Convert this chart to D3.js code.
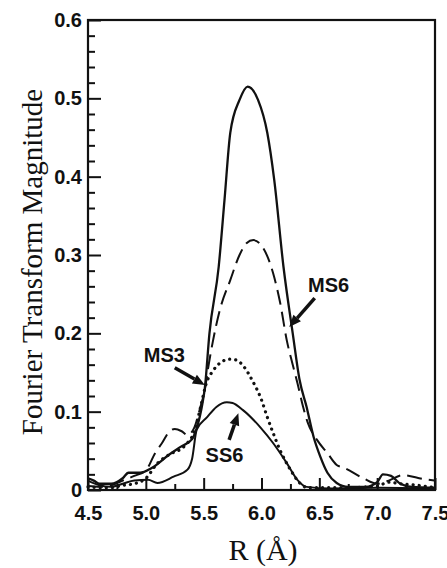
<!DOCTYPE html>
<html>
<head>
<meta charset="utf-8">
<title>Fourier Transform Magnitude</title>
<style type="text/css">
    body{ margin:0; background:#fff; }
    svg text{ fill:#111; }
    .tick-lbl{ font-family:"Liberation Sans", Arial, sans-serif; font-weight:bold; font-size:20px; }
    .title{ font-family:"Liberation Serif", "Times New Roman", serif; }
    .note{ font-family:"Liberation Sans", Arial, sans-serif; font-weight:bold; font-size:20px; }
</style>
<script src="https://cdn.jsdelivr.net/npm/d3@7"></script>
</head>
<body>
<svg id="chart" width="447" height="568"></svg>

<script type="text/javascript">

// data (R in Angstrom, magnitude)
var totalR = [4.5, 4.55, 4.6, 4.7, 4.8, 4.85, 4.95, 5.05, 5.2, 5.3, 5.4, 5.44, 5.49, 5.51, 5.55, 5.63, 5.68, 5.73, 5.81, 5.88, 5.97, 6.05, 6.11, 6.19, 6.27, 6.33, 6.39, 6.45, 6.51, 6.57, 6.65, 6.75, 6.9, 7.0, 7.05, 7.12, 7.2, 7.3, 7.5];
var totalV = [0.015, 0.012, 0.008, 0.008, 0.015, 0.022, 0.022, 0.028, 0.045, 0.055, 0.065, 0.079, 0.111, 0.13, 0.2, 0.285, 0.37, 0.456, 0.498, 0.515, 0.498, 0.456, 0.396, 0.285, 0.2, 0.14, 0.106, 0.068, 0.042, 0.022, 0.009, 0.004, 0.004, 0.01, 0.02, 0.018, 0.008, 0.004, 0.003];

var ms6R = [4.5, 4.6, 4.7, 4.8, 4.9, 5.0, 5.08, 5.14, 5.2, 5.25, 5.31, 5.36, 5.42, 5.47, 5.51, 5.54, 5.58, 5.64, 5.73, 5.81, 5.87, 5.93, 6.01, 6.1, 6.16, 6.22, 6.27, 6.31, 6.36, 6.4, 6.48, 6.57, 6.65, 6.72, 6.88, 7.0, 7.1, 7.22, 7.4, 7.5];
var ms6V = [0.005, 0.004, 0.006, 0.012, 0.018, 0.025, 0.047, 0.06, 0.074, 0.078, 0.075, 0.07, 0.08, 0.105, 0.128, 0.157, 0.19, 0.23, 0.268, 0.3, 0.315, 0.319, 0.31, 0.277, 0.24, 0.19, 0.16, 0.137, 0.106, 0.086, 0.064, 0.047, 0.032, 0.028, 0.015, 0.008, 0.012, 0.019, 0.014, 0.012];

var ms3R = [4.5, 4.6, 4.7, 4.8, 4.9, 5.0, 5.1, 5.2, 5.34, 5.42, 5.48, 5.52, 5.58, 5.65, 5.72, 5.78, 5.85, 5.92, 6.0, 6.05, 6.1, 6.16, 6.25, 6.33, 6.4, 6.7, 7.0, 7.1, 7.2, 7.35, 7.5];
var ms3V = [0.004, 0.003, 0.003, 0.006, 0.008, 0.015, 0.034, 0.045, 0.057, 0.075, 0.11, 0.135, 0.152, 0.163, 0.167, 0.166, 0.157, 0.14, 0.115, 0.093, 0.073, 0.051, 0.026, 0.009, 0.003, 0.003, 0.005, 0.01, 0.008, 0.006, 0.003];

var ss6R = [4.5, 4.6, 4.7, 4.8, 4.9, 5.02, 5.1, 5.24, 5.36, 5.4, 5.44, 5.53, 5.61, 5.7, 5.75, 5.84, 5.99, 6.1, 6.22, 6.31, 6.39, 6.6, 7.0, 7.5];
var ss6V = [0.012, 0.006, 0.004, 0.008, 0.012, 0.013, 0.009, 0.017, 0.026, 0.04, 0.077, 0.093, 0.106, 0.112, 0.111, 0.102, 0.08, 0.06, 0.034, 0.013, 0.004, 0.002, 0.003, 0.002];

var xMajor = [4.5, 5.0, 5.5, 6.0, 6.5, 7.0, 7.5];
var xLabels = ["4.5", "5.0", "5.5", "6.0", "6.5", "7.0", "7.5"];
var yMajor = [0, 0.1, 0.2, 0.3, 0.4, 0.5, 0.6];
var yLabels = ["0", "0.1", "0.2", "0.3", "0.4", "0.5", "0.6"];

// annotations: label, label position, arrow tail, arrow tip
var notes = [
    {text:"MS6", at:[6.58, 0.253], from:[6.46, 0.245], to:[6.24, 0.208]},
    {text:"MS3", at:[5.16, 0.163], from:[5.25, 0.156], to:[5.51, 0.134]},
    {text:"SS6", at:[5.68, 0.036], from:[5.72, 0.064], to:[5.80, 0.098]}
];

var mLeft = 88, mRight = 435, mTop = 20, mBottom = 490;

var svg = d3.select('#chart');
var x = d3.scaleLinear().domain([4.5, 7.5]).range([mLeft, mRight]);
var y = d3.scaleLinear().domain([0, 0.6]).range([mBottom, mTop]);

function zip(a, b){ return a.map(function(v, i){ return [v, b[i]]; }); }

// x axis, ticks point inward
var xMinor = d3.range(4.75, 7.5, 0.5);
svg.append('g')
    .attr('transform', 'translate(0,' + mBottom + ')')
    .call(d3.axisBottom(x).tickValues(xMinor).tickSizeInner(-6).tickSizeOuter(0).tickFormat(''));
svg.append('g')
    .attr('class', 'xaxis')
    .attr('transform', 'translate(0,' + mBottom + ')')
    .call(d3.axisBottom(x).tickValues(xMajor).tickSizeInner(-12).tickSizeOuter(0).tickPadding(16)
        .tickFormat(function(d, i){ return xLabels[i]; }));

var yMinor = d3.range(0.02, 0.6, 0.02).filter(function(d){ return Math.abs(d*10 - Math.round(d*10)) > 0.01; });
svg.append('g')
    .attr('transform', 'translate(' + mLeft + ',0)')
    .call(d3.axisLeft(y).tickValues(yMinor).tickSizeInner(-7).tickSizeOuter(0).tickFormat(''));
svg.append('g')
    .attr('class', 'yaxis')
    .attr('transform', 'translate(' + mLeft + ',0)')
    .call(d3.axisLeft(y).tickValues(yMajor).tickSizeInner(-13).tickSizeOuter(0).tickPadding(6)
        .tickFormat(function(d, i){ return yLabels[i]; }));

svg.selectAll('.domain').remove();
svg.selectAll('.tick line').attr('stroke', '#111').attr('stroke-width', 2);
svg.selectAll('.xaxis text, .yaxis text')
    .attr('class', 'tick-lbl')
    .attr('font-family', null).attr('font-size', null)
    .attr('fill', '#111');

// curves
var line = d3.line()
    .x(function(d){ return x(d[0]); })
    .y(function(d){ return y(d[1]); })
    .curve(d3.curveMonotoneX);

var g = svg.append('g');
g.append('path').datum(zip(ss6R, ss6V)).attr('d', line)
    .attr('fill', 'none').attr('stroke', '#111').attr('stroke-width', 2);
g.append('path').datum(zip(ms3R, ms3V)).attr('d', line)
    .attr('fill', 'none').attr('stroke', '#111').attr('stroke-width', 3.2)
    .attr('stroke-linecap', 'round').attr('stroke-dasharray', '0.1,6');
g.append('path').datum(zip(ms6R, ms6V)).attr('d', line)
    .attr('fill', 'none').attr('stroke', '#111').attr('stroke-width', 2)
    .attr('stroke-dasharray', '15,7');
g.append('path').datum(zip(totalR, totalV)).attr('d', line)
    .attr('fill', 'none').attr('stroke', '#111').attr('stroke-width', 2.3);

// frame
svg.append('rect')
    .attr('x', mLeft).attr('y', mTop)
    .attr('width', mRight - mLeft).attr('height', mBottom - mTop)
    .attr('fill', 'none').attr('stroke', '#111').attr('stroke-width', 2.2);

// arrows and labels
notes.forEach(function(n){
    var x0 = x(n.from[0]), y0 = y(n.from[1]), x1 = x(n.to[0]), y1 = y(n.to[1]);
    var dx = x1 - x0, dy = y1 - y0, len = Math.sqrt(dx*dx + dy*dy);
    var ux = dx/len, uy = dy/len, hl = 12, hw = 5;
    var bx = x1 - ux*hl, by = y1 - uy*hl;
    svg.append('line')
        .attr('x1', x0).attr('y1', y0).attr('x2', bx).attr('y2', by)
        .attr('stroke', '#111').attr('stroke-width', 3.5);
    svg.append('path')
        .attr('d', 'M' + x1 + ',' + y1 +
            'L' + (bx - uy*hw) + ',' + (by + ux*hw) +
            'L' + (bx + uy*hw) + ',' + (by - ux*hw) + 'Z')
        .attr('fill', '#111');
    svg.append('text')
        .attr('class', 'note')
        .attr('x', x(n.at[0])).attr('y', y(n.at[1]))
        .attr('text-anchor', 'middle')
        .text(n.text);
});

// axis titles
svg.append('text')
    .attr('class', 'title')
    .attr('transform', 'translate(42,262) rotate(-90)')
    .attr('text-anchor', 'middle')
    .attr('font-size', 29)
    .text('Fourier Transform Magnitude');

svg.append('text')
    .attr('class', 'title')
    .attr('x', 263).attr('y', 560)
    .attr('text-anchor', 'middle')
    .attr('font-size', 30)
    .text('R (Å)');

</script>
</body>
</html>
